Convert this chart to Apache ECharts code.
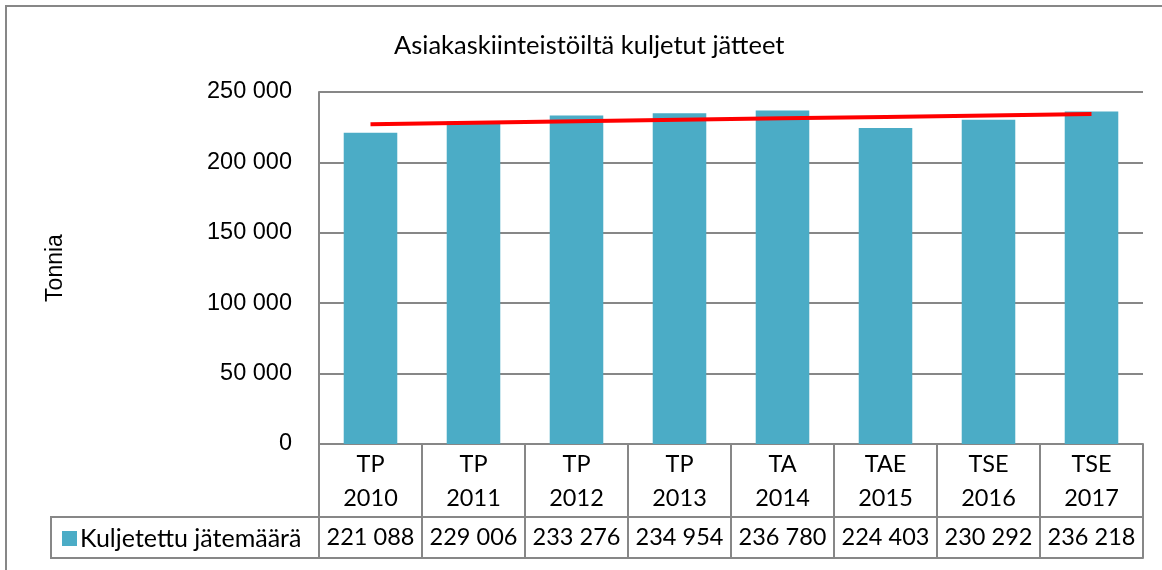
<!DOCTYPE html>
<html>
<head>
<meta charset="utf-8">
<script src="https://cdn.jsdelivr.net/npm/echarts@6/dist/echarts.min.js"></script>
<style>
  html, body { margin: 0; padding: 0; background: #fff; }
  #main { width: 1162px; height: 570px; }
</style>
</head>
<body>
<div id="main"></div>
<script>
var categories = ['TP\n2010', 'TP\n2011', 'TP\n2012', 'TP\n2013', 'TA\n2014', 'TAE\n2015', 'TSE\n2016', 'TSE\n2017'];
var amounts = [221088, 229006, 233276, 234954, 236780, 224403, 230292, 236218];
var seriesName = 'Kuljetettu jätemäärä';
var yTicks = [0, 50000, 100000, 150000, 200000, 250000];

// thousands with a space, like the original
function fmt(v) {
    return String(v).replace(/\B(?=(\d{3})+(?!\d))/g, ' ');
}

// linear trendline (least squares), as in the spreadsheet
function trend(vals) {
    var n = vals.length, mx = (n - 1) / 2, my = 0, sxy = 0, sxx = 0;
    for (var i = 0; i < n; i++) my += vals[i];
    my = my / n;
    for (var j = 0; j < n; j++) {
        sxy += (j - mx) * (vals[j] - my);
        sxx += (j - mx) * (j - mx);
    }
    var k = sxy / sxx;
    return vals.map(function (v, i) { return my + k * (i - mx); });
}

var gridColor = '#878787';
var barColor = '#4bacc6';

var myChart = echarts.init(document.getElementById('main'));
var option = {
    animation: false,
    backgroundColor: '#fff',
    title: {
        text: 'Asiakaskiinteistöiltä kuljetut jätteet',
        left: 389,
        top: 28,
        textStyle: { fontFamily: 'Lato', fontWeight: 'normal', fontSize: 25.5, color: '#000' }
    },
    legend: {
        data: [seriesName],
        left: 57,
        top: 521,
        icon: 'rect',
        itemWidth: 15,
        itemHeight: 15,
        itemGap: 6,
        textStyle: { fontFamily: 'Lato', fontSize: 25, color: '#000', padding: [0, 0, 0, -2] }
    },
    grid: {
        left: 319,
        right: 19,
        top: 92,
        bottom: 126,
        containLabel: false
    },
    graphic: [
        { // outer frame
            type: 'rect',
            shape: { x: 6, y: 6, width: 1180, height: 600 },
            style: { fill: 'none', stroke: gridColor, lineWidth: 2 },
            silent: true
        },
        { // legend cell of the data table
            type: 'rect',
            shape: { x: 51, y: 517, width: 268, height: 41 },
            style: { fill: 'none', stroke: gridColor, lineWidth: 2 },
            silent: true
        }
    ],
    xAxis: [{
        type: 'category',
        data: categories,
        position: 'bottom',
        axisLine: { show: true, lineStyle: { color: gridColor, width: 2 } },
        axisTick: { show: true, length: 114, alignWithLabel: false, lineStyle: { color: gridColor, width: 2 } },
        axisLabel: {
            margin: 3,
            fontFamily: 'Lato',
            fontSize: 23.5,
            lineHeight: 34,
            color: '#000',
            interval: 0
        }
    }, {
        type: 'category',
        data: categories,
        position: 'bottom',
        offset: 73,
        axisLine: { show: true, lineStyle: { color: gridColor, width: 2 } },
        axisTick: { show: false },
        axisLabel: {
            margin: 8,
            fontFamily: 'Lato',
            fontSize: 23.5,
            color: '#000',
            interval: 0,
            formatter: function (val, i) { return fmt(amounts[i]); }
        }
    }, {
        type: 'category',
        data: categories,
        position: 'bottom',
        offset: 114,
        axisLine: { show: true, lineStyle: { color: gridColor, width: 2 } },
        axisTick: { show: false },
        axisLabel: { show: false }
    }],
    yAxis: {
        type: 'value',
        min: yTicks[0],
        max: yTicks[yTicks.length - 1],
        interval: yTicks[1] - yTicks[0],
        name: 'Tonnia',
        nameLocation: 'middle',
        nameGap: 252,
        nameRotate: 90,
        nameTextStyle: { fontFamily: 'Liberation Sans', fontSize: 23, color: '#000' },
        axisLine: { show: true, lineStyle: { color: gridColor, width: 2 } },
        axisTick: { show: false },
        splitLine: { show: true, lineStyle: { color: gridColor, width: 2 } },
        axisLabel: {
            margin: 27,
            fontFamily: 'Liberation Sans',
            fontSize: 23.5,
            color: '#000',
            padding: [4, 0, 0, 0],
            formatter: function (v) { return fmt(v); }
        }
    },
    series: [{
        name: seriesName,
        type: 'bar',
        xAxisIndex: 0,
        data: amounts,
        barCategoryGap: '48%',
        itemStyle: { color: barColor },
        z: 2
    }, {
        name: 'Trendi',
        type: 'line',
        xAxisIndex: 0,
        data: trend(amounts),
        symbol: 'none',
        lineStyle: { color: '#ff0000', width: 4 },
        z: 3
    }]
};
myChart.setOption(option, true);
</script>
</body>
</html>
